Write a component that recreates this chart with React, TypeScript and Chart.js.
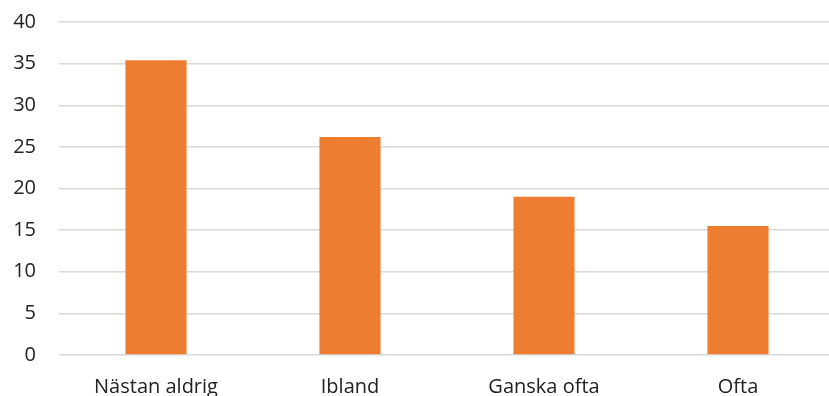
import React, { useEffect, useRef } from "react";
import { Chart, registerables } from "chart.js";

Chart.register(...registerables);

const categories = ["Nästan aldrig", "Ibland", "Ganska ofta", "Ofta"];
const values = [35.4, 26.2, 19.0, 15.5];
const yTicks = [0, 5, 10, 15, 20, 25, 30, 35, 40];

export default function App() {
  const ref = useRef<HTMLCanvasElement | null>(null);

  useEffect(() => {
    document.body.style.margin = "0";
    const canvas = ref.current;
    if (!canvas) return;
    const font = { family: "'Open Sans', 'Liberation Sans', sans-serif", size: 20 };
    const chart = new Chart(canvas, {
      type: "bar",
      data: {
        labels: categories,
        datasets: [
          {
            data: values,
            backgroundColor: "#ED7D31",
            borderWidth: 0,
            barPercentage: 1,
            categoryPercentage: 0.315,
          },
        ],
      },
      options: {
        responsive: false,
        animation: false,
        events: [],
        layout: { padding: { top: 22, left: 0, right: 0, bottom: 0 } },
        plugins: { legend: { display: false }, tooltip: { enabled: false } },
        scales: {
          x: {
            grid: { display: false, drawTicks: false },
            border: { display: false },
            ticks: { color: "#222", font, padding: 20, maxRotation: 0 },
            afterFit: (s: any) => {
              s.height = 41;
              s.paddingLeft = 0;
              s.paddingRight = 0;
            },
          },
          y: {
            min: 0,
            max: 40,
            afterBuildTicks: (s: any) => {
              s.ticks = yTicks.map((v) => ({ value: v }));
            },
            grid: { color: "#d9d9d9", lineWidth: 1.5, drawTicks: false },
            border: { display: false },
            ticks: { color: "#222", font, padding: 23 },
            afterFit: (s: any) => {
              s.width = 59;
              s.paddingTop = 0;
              s.paddingBottom = 0;
            },
          },
        },
      },
    });
    return () => chart.destroy();
  }, []);

  return (
    <div style={{ width: 829, height: 396, overflow: "hidden", position: "relative", background: "#fff" }}>
      <canvas ref={ref} width={835} height={396} style={{ display: "block", width: 835, height: 396 }} />
    </div>
  );
}
